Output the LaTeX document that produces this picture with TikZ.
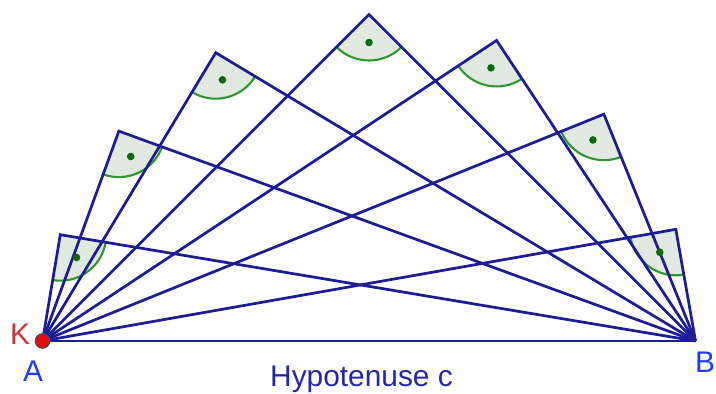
\documentclass[tikz,border=0pt]{standalone}
\usepackage{fontspec}
\setmainfont{Liberation Sans}
\usepackage{xcolor}
\usepackage{tikz}
\usetikzlibrary{calc}
\definecolor{linenavy}{HTML}{1C1C96}
\definecolor{labelblue}{HTML}{1F3DF0}
\definecolor{textnavy}{HTML}{2626AA}
\definecolor{pointred}{HTML}{DD1111}
\definecolor{labelred}{HTML}{CC3333}
\definecolor{anglefill}{HTML}{E1EAE1}
\definecolor{anglegreen}{HTML}{2E962E}
\definecolor{dotgreen}{HTML}{0A6A0A}

\begin{document}
\begin{tikzpicture}[x=0.02cm, y=0.02cm,
    leg/.style={draw=linenavy, line width=1.55pt},
    rightmark/.style={fill=anglefill},
    markarc/.style={draw=anglegreen, line width=1.2pt},
    lbl/.style={inner sep=0pt, font=\fontsize{17}{19}\selectfont}]
  \useasboundingbox (0,0) rectangle (716,394);
  \coordinate (O) at (369,53);
  \coordinate (A) at (42.5,53);
  \coordinate (B) at (695.5,53);

  % right angles on the semicircle over AB
  \foreach \t [count=\i] in {161,140,118,90,67,44,20}{
    \coordinate (P\i) at ($(O)+(\t:326.5)$);
    \fill[rightmark] (P\i) -- ++({\t/2-90}:46)
      arc[start angle={\t/2-90}, end angle={\t/2-180}, radius=46] -- cycle;
    \draw[markarc] (P\i) ++({\t/2-90}:46)
      arc[start angle={\t/2-90}, end angle={\t/2-180}, radius=46];
  }

  \draw[leg] (A) -- (B);
  \foreach \i in {1,...,7}{
    \draw[leg] (A) -- (P\i) -- (B);
  }

  \foreach \t [count=\i] in {161,140,118,90,67,44,20}{
    \fill[dotgreen] (P\i) ++({\t/2-135}:28) circle[radius=3.8];
  }

  \node[circle, fill=pointred, draw=black!70, line width=0.6pt,
        inner sep=0pt, minimum size=0.29cm] (ptA) at (A) {};

  \node[lbl, text=labelred, anchor=base] (labK) at (20,49) {K};
  \node[lbl, text=labelblue, anchor=base] (labA) at (33,12) {A};
  \node[lbl, text=labelblue, anchor=base east] (labB) at (715.5,21) {B};
  \node[lbl, text=textnavy, anchor=base] (hyp) at (361.5,7) {Hypotenuse c};
\end{tikzpicture}
\end{document}
